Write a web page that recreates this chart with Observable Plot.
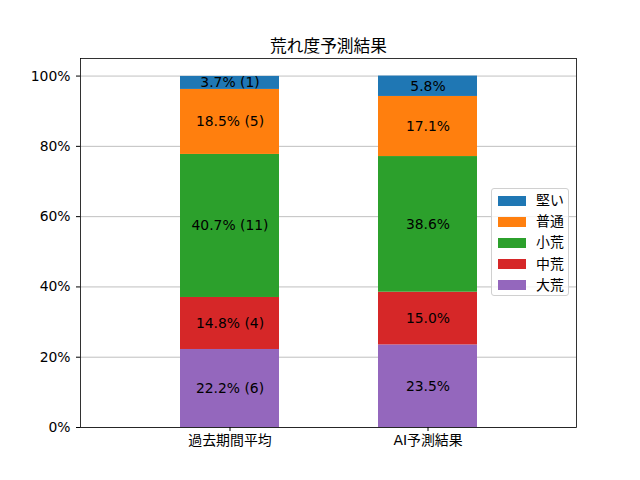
<!DOCTYPE html>
<html>
<head>
<meta charset="utf-8">
<script src="https://cdn.jsdelivr.net/npm/d3@7"></script>
<script src="https://cdn.jsdelivr.net/npm/@observablehq/plot@0.6"></script>
<style>
  body { margin: 0; background: #fff; }
  #wrap { position: relative; width: 640px; height: 480px; font-family: "DejaVu Sans", "Noto Sans CJK JP", sans-serif; }
  #wrap svg { display: block; }
  #legend { position: absolute; left: 491px; top: 188px; width: 78px; height: 108px; box-sizing: border-box;
    border: 1px solid #d0d0d0; border-radius: 3px; background: rgba(255,255,255,0.8); padding: 1px 0 0 6px; }
  .row { display: flex; align-items: center; height: 21.2px; line-height: 21.2px; font-size: 13.9px; color: #000; }
  .sw { width: 28px; height: 10px; margin-right: 10px; }
</style>
</head>
<body>
<div id="wrap"><div id="legend"></div></div>
<script>
const categories = ["過去期間平均", "AI予測結果"];
const levels = ["大荒", "中荒", "小荒", "普通", "堅い"];
const pastPct = [22.2, 14.8, 40.7, 18.5, 3.7];
const pastCount = [6, 4, 11, 5, 1];
const aiPct = [23.5, 15.0, 38.6, 17.1, 5.8];
const levelColors = ["#9467bd", "#d62728", "#2ca02c", "#ff7f0e", "#1f77b4"];
const yTicks = [0, 20, 40, 60, 80, 100];
const title = "荒れ度予測結果";

const rows = [];
levels.forEach((lv, i) => {
  rows.push({cat: categories[0], level: lv, pct: pastPct[i], label: `${pastPct[i].toFixed(1)}% (${pastCount[i]})`});
});
levels.forEach((lv, i) => {
  rows.push({cat: categories[1], level: lv, pct: aiPct[i], label: `${aiPct[i].toFixed(1)}%`});
});

const font = `"DejaVu Sans", "Noto Sans CJK JP", sans-serif`;

const chart = Plot.plot({
  width: 640,
  height: 480,
  marginLeft: 80,
  marginRight: 64,
  marginTop: 58,
  marginBottom: 53,
  style: {fontFamily: font, fontSize: "13.9px", color: "#000", background: "#fff"},
  x: {domain: categories, padding: 0.5, label: null},
  y: {domain: [0, 105], label: null},
  color: {domain: levels, range: levelColors},
  marks: [
    Plot.gridY(yTicks, {stroke: "#b0b0b0", strokeOpacity: 1, strokeWidth: 0.8}),
    Plot.barY(rows, Plot.stackY({x: "cat", y: "pct", fill: "level", z: "level", order: levels})),
    Plot.text(rows, Plot.stackY({x: "cat", y: "pct", z: "level", text: "label", order: levels, fill: "#000", fontSize: 13.9})),
    Plot.frame({stroke: "#000", strokeWidth: 0.8}),
    Plot.axisX({tickSize: 4, tickPadding: 4, fontSize: 13.9, label: null}),
    Plot.axisY(yTicks, {tickFormat: d => d + "%", tickSize: 4, tickPadding: 6, fontSize: 13.9, label: null}),
    Plot.text([title], {frameAnchor: "top", dy: -18, fontSize: 16.7, fill: "#000"})
  ]
});
document.getElementById("wrap").prepend(chart);

const legend = document.getElementById("legend");
[...levels].reverse().forEach(lv => {
  const r = document.createElement("div");
  r.className = "row";
  const s = document.createElement("div");
  s.className = "sw";
  s.style.background = levelColors[levels.indexOf(lv)];
  const t = document.createElement("span");
  t.textContent = lv;
  r.append(s, t);
  legend.append(r);
});
</script>
</body>
</html>
